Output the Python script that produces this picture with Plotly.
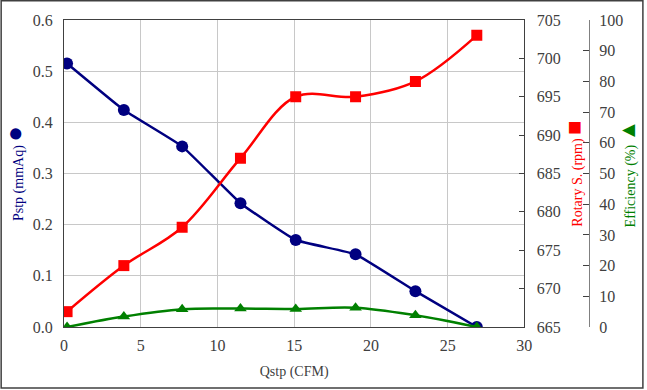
import plotly.graph_objects as go

q_cfm = [0.2, 3.9, 7.7, 11.5, 15.1, 19.0, 22.9, 26.9]
p_stp = [0.515, 0.424, 0.353, 0.242, 0.170, 0.142, 0.070, 0.0]
rpm = [667, 673, 678, 687, 695, 695, 697, 703]
eff = [0.0, 3.4, 5.8, 6.0, 5.9, 6.3, 3.8, 0.0]

W, H = 647, 390
ML, MR, MT, MB = 64, 55, 20, 63
pw = W - ML - MR
ph = H - MT - MB
xdom = (527 - ML) / pw

font_f = "Times New Roman, Liberation Serif, serif"
tick_col = "#404040"
tf = dict(family=font_f, size=16, color=tick_col)

fig = go.Figure()
fig.add_trace(go.Scatter(x=q_cfm, y=p_stp, mode="lines+markers", yaxis="y",
                         line=dict(color="#000080", width=2.5, shape="spline", smoothing=0.3),
                         marker=dict(symbol="circle", size=12, color="#000080")))
fig.add_trace(go.Scatter(x=q_cfm, y=rpm, mode="lines+markers", yaxis="y2",
                         line=dict(color="#ff0000", width=2.5, shape="spline", smoothing=1.0),
                         marker=dict(symbol="square", size=11, color="#ff0000")))
fig.add_trace(go.Scatter(x=q_cfm, y=eff, mode="lines+markers", yaxis="y3",
                         line=dict(color="#008000", width=2.5, shape="spline", smoothing=1.0),
                         marker=dict(symbol="triangle-up", size=11, color="#008000")))

fig.update_layout(
    width=W, height=H,
    margin=dict(l=ML, r=MR, t=MT, b=MB),
    paper_bgcolor="white", plot_bgcolor="white",
    showlegend=False,
    font=dict(family=font_f, size=15, color=tick_col),
    xaxis=dict(domain=[0, xdom], range=[0, 30], dtick=5, tick0=0, tickfont=tf,
               ticklabelstandoff=4,
               showgrid=True, gridcolor="#c8c8c8", gridwidth=1.3,
               showline=True, linecolor="#404040", linewidth=1.3, mirror=True,
               ticks="", zeroline=False,
               title=dict(text="Qstp (CFM)", font=dict(family=font_f, size=14, color=tick_col), standoff=12)),
    yaxis=dict(range=[0, 0.6], dtick=0.1, tickformat=".1f", tickfont=tf,
               ticklabelstandoff=7,
               showgrid=True, gridcolor="#c8c8c8", gridwidth=1.3,
               showline=True, linecolor="#404040", linewidth=1.3, mirror=True,
               ticks="", zeroline=False,
               title=dict(text="Pstp (mmAq) <span style='font-size:26px'>●</span>",
                          font=dict(family=font_f, size=14, color="#000080"), standoff=8)),
    yaxis2=dict(range=[665, 705], dtick=5, overlaying="y", side="right", anchor="x", tickfont=tf,
                ticklabelstandoff=8,
                showgrid=False, showline=True, linecolor="#404040", linewidth=1.3,
                ticks="inside", ticklen=5, tickcolor="#404040", zeroline=False,
                title=dict(text="Rotary S. (rpm) <span style='font-size:24px'>■</span>",
                           font=dict(family=font_f, size=14, color="#ff0000"), standoff=3)),
    yaxis3=dict(range=[0, 100], dtick=10, overlaying="y", side="right", anchor="free", tickfont=tf,
                ticklabelstandoff=6,
                position=1.0, showgrid=False, showline=True, linecolor="#808080", linewidth=1.3,
                ticks="inside", ticklen=6, tickcolor="#404040", zeroline=False,
                title=dict(text="Efficiency (%) <span style='font-size:22px'>▲</span>",
                           font=dict(family=font_f, size=14, color="#008000"), standoff=2)),
    shapes=[dict(type="rect", xref="paper", yref="paper",
                 x0=(0.8 - ML) / pw, x1=(W - 0.8 - ML) / pw,
                 y0=(H - 388 - MB) / ph, y1=(H - 0.8 - MB) / ph,
                 line=dict(color="#404040", width=1.5), fillcolor="rgba(0,0,0,0)", layer="above")],
)

fig.write_html("out.html", config={"displayModeBar": False},
               post_script="document.body.style.margin='0';document.body.style.overflow='hidden';")
